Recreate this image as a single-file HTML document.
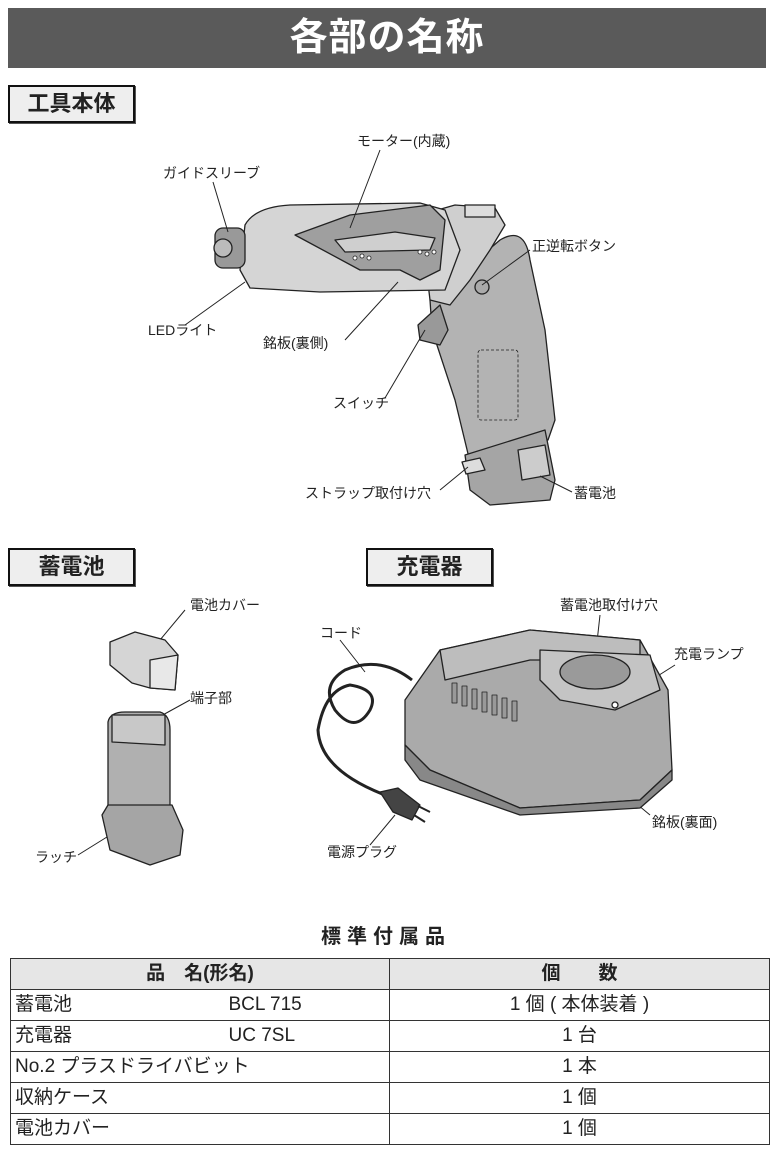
<!DOCTYPE html>
<html><head><meta charset="utf-8"><style>
body{margin:0;width:772px;height:1151px;background:#fff;position:relative;overflow:hidden;font-family:"Liberation Sans","Noto Sans CJK JP",sans-serif;color:#222}
.hdr{position:absolute;left:8px;top:8px;width:758px;height:60px;background:#5a5a5a;color:#fff;font-weight:bold;font-size:38px;text-align:center;line-height:60px;letter-spacing:1px}
.sec{position:absolute;width:123px;height:34px;border:2px solid #111;background:#eee;font-size:22px;font-weight:bold;text-align:center;line-height:34px;box-shadow:1px 1px 0 #555}
.l{position:absolute;font-size:14px;line-height:16px;white-space:nowrap}
table{position:absolute;left:10px;top:958px;width:760px;border-collapse:collapse;font-size:19px}
td{border:1.5px solid #333;height:30px;padding:0 4px;line-height:30px}
</style></head><body>
<div class="hdr">各部の名称</div>
<div class="sec" style="left:8px;top:85px">工具本体</div>
<div class="sec" style="left:8px;top:548px">蓄電池</div>
<div class="sec" style="left:366px;top:548px">充電器</div>

<svg style="position:absolute;left:0;top:0" width="772" height="900" stroke="#222" stroke-width="1.3" stroke-linejoin="round">
<!-- drill grip -->
<path d="M430 300 L500 240 Q525 225 530 260 L545 330 L555 420 L548 440 L470 462 L455 400 L432 330 Z" fill="#b3b3b3"/>
<!-- battery in drill -->
<path d="M465 455 L545 430 L555 480 L550 500 L490 505 L470 490 Z" fill="#a5a5a5"/>
<path d="M518 450 L545 445 L550 475 L522 480 Z" fill="#ccc"/>
<path d="M462 462 L480 458 L485 470 L466 474 Z" fill="#ddd"/>
<!-- trigger -->
<path d="M418 325 L440 305 L448 330 L440 345 L420 340 Z" fill="#999"/>
<!-- head/rear -->
<path d="M420 215 L455 205 L495 208 L505 225 L490 250 L470 280 L450 305 L430 300 Z" fill="#cfcfcf"/>
<rect x="465" y="205" width="30" height="12" fill="#ddd"/>
<!-- barrel -->
<path d="M245 225 Q255 207 290 205 L420 203 L445 210 L460 250 L445 290 L320 292 L250 288 L240 270 Z" fill="#d5d5d5"/>
<path d="M295 235 L350 215 L430 205 L445 220 L440 270 L420 280 L400 270 L360 270 Z" fill="#9f9f9f"/>
<path d="M335 240 L395 232 L435 238 L430 250 L345 252 Z" fill="#cfcfcf"/>
<g fill="#fff" stroke-width="0.8"><circle cx="355" cy="258" r="2"/><circle cx="362" cy="256" r="2"/><circle cx="369" cy="258" r="2"/><circle cx="420" cy="252" r="2"/><circle cx="427" cy="254" r="2"/><circle cx="434" cy="252" r="2"/></g>
<!-- chuck -->
<rect x="215" y="228" width="30" height="40" rx="8" fill="#999"/>
<circle cx="223" cy="248" r="9" fill="#bbb"/>
<circle cx="482" cy="287" r="7" fill="#aaa"/>
<g fill="none" stroke-width="0.8"><rect x="478" y="350" width="40" height="70" rx="3" stroke-dasharray="3 2"/></g>
<!-- leader lines -->
<g fill="none" stroke-width="1">
<line x1="213" y1="182" x2="228" y2="232"/><line x1="380" y1="150" x2="350" y2="228"/>
<line x1="530" y1="250" x2="482" y2="285"/><line x1="185" y1="325" x2="245" y2="282"/>
<line x1="345" y1="340" x2="398" y2="282"/><line x1="385" y1="398" x2="425" y2="330"/>
<line x1="440" y1="490" x2="468" y2="467"/><line x1="572" y1="492" x2="540" y2="476"/>
<line x1="185" y1="610" x2="160" y2="640"/><line x1="190" y1="700" x2="150" y2="722"/>
<line x1="78" y1="855" x2="115" y2="832"/>
<line x1="340" y1="640" x2="365" y2="672"/><line x1="600" y1="615" x2="595" y2="660"/>
<line x1="675" y1="665" x2="615" y2="703"/><line x1="650" y1="815" x2="620" y2="790"/>
<line x1="370" y1="845" x2="395" y2="815"/>
<line x1="555" y1="745" x2="620" y2="790" stroke-dasharray="2 2"/>
</g>
<!-- battery cover -->
<path d="M110 642 L135 632 L165 640 L178 655 L175 690 L150 688 L132 683 L110 665 Z" fill="#d5d5d5"/>
<path d="M150 660 L178 655 L175 690 L150 688 Z" fill="#e8e8e8"/>
<!-- battery -->
<path d="M108 722 Q110 712 125 712 L160 712 Q170 715 170 730 L170 812 L108 812 Z" fill="#b0b0b0"/>
<path d="M112 715 L165 715 L165 745 L112 742 Z" fill="#c8c8c8"/>
<path d="M102 815 L108 805 L172 805 L183 830 L180 855 L150 865 L110 850 Z" fill="#a5a5a5"/>
<!-- charger -->
<path d="M405 700 L440 650 L530 630 L640 640 L668 690 L672 770 L640 800 L520 808 L430 770 L405 745 Z" fill="#aaaaaa"/>
<path d="M440 650 L445 680 L530 660 L640 660 L640 640 L530 630 Z" fill="#bdbdbd"/>
<path d="M405 745 L430 770 L520 808 L640 800 L672 770 L672 780 L640 808 L520 815 L420 780 L405 760 Z" fill="#888"/>
<path d="M540 650 L650 655 L660 690 L615 710 L560 700 L540 680 Z" fill="#c4c4c4"/>
<ellipse cx="595" cy="672" rx="35" ry="17" fill="#9a9a9a"/>
<g fill="#999" stroke-width="0.8"><rect x="452" y="683" width="5" height="20"/><rect x="462" y="686" width="5" height="20"/><rect x="472" y="689" width="5" height="20"/><rect x="482" y="692" width="5" height="20"/><rect x="492" y="695" width="5" height="20"/><rect x="502" y="698" width="5" height="20"/><rect x="512" y="701" width="5" height="20"/></g>
<circle cx="615" cy="705" r="3" fill="#fff"/>
<!-- cord -->
<path d="M412 680 Q380 655 345 670 Q320 685 335 710 Q355 735 370 710 Q380 690 350 685 Q325 690 318 730 Q320 770 385 795" fill="none" stroke-width="3"/>
<path d="M380 792 L398 788 L420 805 L412 820 L393 812 Z" fill="#444"/>
<line x1="418" y1="806" x2="430" y2="812" stroke-width="2"/><line x1="414" y1="815" x2="425" y2="822" stroke-width="2"/>
</svg>

<div class="l" style="left:357px;top:133px">モーター(内蔵)</div>
<div class="l" style="left:163px;top:165px">ガイドスリーブ</div>
<div class="l" style="left:532px;top:238px">正逆転ボタン</div>
<div class="l" style="left:148px;top:322px">LEDライト</div>
<div class="l" style="left:263px;top:335px">銘板(裏側)</div>
<div class="l" style="left:333px;top:395px">スイッチ</div>
<div class="l" style="left:305px;top:485px">ストラップ取付け穴</div>
<div class="l" style="left:574px;top:485px">蓄電池</div>
<div class="l" style="left:190px;top:597px">電池カバー</div>
<div class="l" style="left:190px;top:690px">端子部</div>
<div class="l" style="left:35px;top:849px">ラッチ</div>
<div class="l" style="left:320px;top:625px">コード</div>
<div class="l" style="left:560px;top:597px">蓄電池取付け穴</div>
<div class="l" style="left:674px;top:646px">充電ランプ</div>
<div class="l" style="left:652px;top:814px">銘板(裏面)</div>
<div class="l" style="left:327px;top:844px">電源プラグ</div>

<div style="position:absolute;left:0;width:772px;top:920px;text-align:center;font-size:20px;font-weight:bold;letter-spacing:6px">標準付属品</div>
<table>
<tr style="background:#e6e6e6;font-weight:bold"><td style="width:370px;text-align:center;height:28px;line-height:28px">品　名(形名)</td><td style="text-align:center">個　　数</td></tr>
<tr><td>蓄電池<span style="position:absolute;left:218px">BCL 715</span></td><td style="text-align:center">1 個 ( 本体装着 )</td></tr>
<tr><td>充電器<span style="position:absolute;left:218px">UC 7SL</span></td><td style="text-align:center">1 台</td></tr>
<tr><td>No.2 プラスドライバビット</td><td style="text-align:center">1 本</td></tr>
<tr><td>収納ケース</td><td style="text-align:center">1 個</td></tr>
<tr><td>電池カバー</td><td style="text-align:center">1 個</td></tr>
</table>
</body></html>
